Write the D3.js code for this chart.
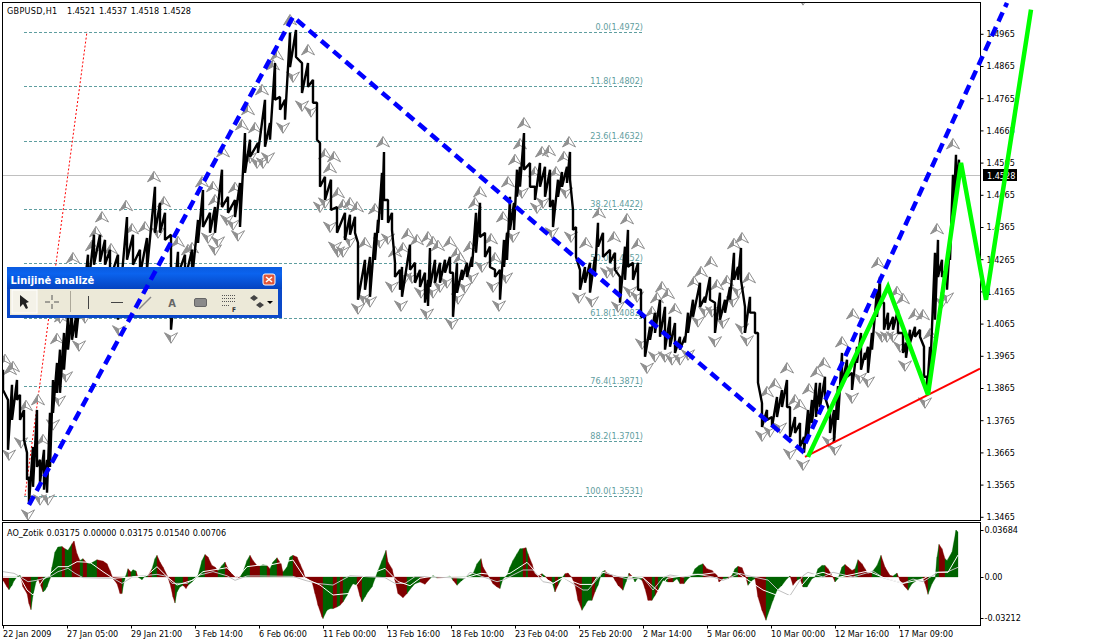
<!DOCTYPE html>
<html><head><meta charset="utf-8">
<script src="https://cdn.jsdelivr.net/npm/d3@7"></script>
<style>
html,body{margin:0;padding:0;background:#fff;overflow:hidden}
svg{display:block}
text{font-family:"DejaVu Sans Condensed","Liberation Sans",sans-serif;font-size:9px;fill:#000}
</style></head><body><svg id="c" width="1096" height="643"></svg>
<script>
const chartSymbol="GBPUSD,H1";
const chartQuote="1.4521 1.4537 1.4518 1.4528";
const aoTitle="AO_Zotik 0.03175 0.00000 0.03175 0.01540 0.00706";
const priceTicks=[1.4965,1.4865,1.4765,1.4665,1.4565,1.4465,1.4365,1.4265,1.4165,1.4065,1.3965,1.3865,1.3765,1.3665,1.3565,1.3465];
const aoTicks=[0.03684,0,-0.03212];
const aoTickLabels=["0.03684","0.00","-0.03212"];
const timeTicks=[0,64,128,192,256,320,384,448,512,576,640,704,768,832,896];
const timeLabels=["22 Jan 2009","27 Jan 05:00","29 Jan 21:00","3 Feb 14:00","6 Feb 06:00","11 Feb 00:00","13 Feb 16:00","18 Feb 10:00","23 Feb 04:00","25 Feb 20:00","2 Mar 14:00","5 Mar 06:00","10 Mar 00:00","12 Mar 16:00","17 Mar 09:00"];
const fibPct=["0.0","11.8","23.6","38.2","50.0","61.8","76.4","88.2","100.0"];
const fibPrice=[1.4972,1.4802,1.4632,1.4422,1.4252,1.4082,1.3871,1.3701,1.3531];
const lastPrice=1.4528;
const barIdx=[0,5,9,14,17,21,24,26,30,34,37,41,44,47,50,54,57,61,65,69,73,79,85,91,97,102,107,115,124,130,137,144,152,157,162,168,175,182,189,195,200,207,212,219,225,232,237,242,247,255,262,267,272,277,282,287,293,299,305,310,314,317,322,328,334,342,347,352,355,362,367,372,375,379,381,385,389,392,397,399,407,412,417,422,425,427,432,437,442,447,450,454,459,464,469,473,477,482,487,492,497,501,504,507,511,514,517,521,527,532,537,542,547,550,555,559,564,567,570,573,577,582,587,592,595,600,607,612,617,622,625,630,635,638,642,647,652,657,662,667,672,677,682,685,690,697,702,707,712,717,722,727,731,735,738,742,747,752,755,759,764,769,774,779,784,787,792,797,801,805,809,813,817,822,827,831,835,839,844,849,854,858,862,865,869,874,877,881,885,890,895,900,903,907,912,917,921,924,927,932,935,939,944,947,950,953,956];
const barHigh=[1.3922,1.3828,1.3875,1.3890,1.3844,1.3797,1.3664,1.3589,1.3682,1.3797,1.3642,1.3673,1.3642,1.3788,1.3890,1.3943,1.3984,1.4036,1.4086,1.4108,1.4086,1.4201,1.4279,1.4341,1.4341,1.4325,1.4294,1.4279,1.4396,1.4341,1.4294,1.4331,1.4490,1.4440,1.4409,1.4341,1.4288,1.4279,1.4294,1.4387,1.4480,1.4409,1.4427,1.4543,1.4459,1.4449,1.4502,1.4657,1.4636,1.4626,1.4760,1.4688,1.4874,1.4769,1.4760,1.4968,1.4977,1.4874,1.4874,1.4822,1.4751,1.4626,1.4521,1.4512,1.4427,1.4409,1.4403,1.4397,1.4316,1.4263,1.4272,1.4347,1.4387,1.4533,1.4598,1.4449,1.4409,1.4254,1.4232,1.4241,1.4310,1.4254,1.4232,1.4223,1.4201,1.4300,1.4263,1.4254,1.4263,1.4272,1.4223,1.4254,1.4232,1.4254,1.4272,1.4409,1.4440,1.4347,1.4304,1.4232,1.4232,1.4325,1.4347,1.4459,1.4440,1.4543,1.4552,1.4657,1.4564,1.4490,1.4564,1.4552,1.4543,1.4449,1.4512,1.4536,1.4552,1.4598,1.4418,1.4365,1.4232,1.4241,1.4254,1.4272,1.4378,1.4347,1.4294,1.4285,1.4210,1.4304,1.4356,1.4254,1.4254,1.4170,1.4086,1.4055,1.4099,1.4139,1.4117,1.4086,1.4067,1.4024,1.4024,1.4099,1.4139,1.4192,1.4148,1.4210,1.4130,1.4161,1.4139,1.4179,1.4285,1.4241,1.4300,1.4117,1.4148,1.4099,1.4036,1.3818,1.3797,1.3775,1.3837,1.3859,1.3890,1.3806,1.3775,1.3756,1.3713,1.3797,1.3828,1.3881,1.3881,1.3900,1.3788,1.3797,1.3871,1.3974,1.3953,1.3912,1.3993,1.4036,1.3974,1.3993,1.4036,1.4170,1.4210,1.4130,1.4099,1.4086,1.4108,1.4036,1.4005,1.4046,1.4055,1.4046,1.3993,1.3900,1.3993,1.4285,1.4325,1.4263,1.4241,1.4325,1.4527,1.4589,1.4574];
const barLow=[1.3859,1.3673,1.3766,1.3828,1.3766,1.3704,1.3580,1.3509,1.3558,1.3620,1.3571,1.3549,1.3540,1.3620,1.3788,1.3850,1.3850,1.3922,1.3984,1.4015,1.4021,1.4108,1.4170,1.4248,1.4257,1.4248,1.4201,1.4077,1.4263,1.4248,1.4216,1.4232,1.4347,1.4347,1.4325,1.4046,1.4216,1.4201,1.4201,1.4316,1.4365,1.4347,1.4347,1.4427,1.4409,1.4396,1.4365,1.4533,1.4583,1.4595,1.4614,1.4636,1.4760,1.4729,1.4698,1.4862,1.4893,1.4781,1.4800,1.4751,1.4636,1.4490,1.4449,1.4418,1.4347,1.4325,1.4341,1.4347,1.4139,1.4170,1.4148,1.4263,1.4347,1.4387,1.4449,1.4378,1.4356,1.4210,1.4170,1.4148,1.4232,1.4192,1.4179,1.4130,1.4120,1.4179,1.4192,1.4192,1.4223,1.4223,1.4086,1.4161,1.4201,1.4210,1.4241,1.4285,1.4334,1.4272,1.4241,1.4210,1.4139,1.4241,1.4263,1.4356,1.4356,1.4459,1.4490,1.4543,1.4490,1.4449,1.4490,1.4459,1.4427,1.4365,1.4459,1.4490,1.4502,1.4512,1.4356,1.4272,1.4170,1.4192,1.4161,1.4223,1.4304,1.4272,1.4254,1.4232,1.4130,1.4201,1.4241,1.4201,1.4170,1.4086,1.3962,1.4015,1.4036,1.4024,1.3984,1.3993,1.3974,1.3984,1.4006,1.4036,1.4086,1.4117,1.4130,1.4139,1.4036,1.4077,1.4099,1.4139,1.4201,1.4201,1.4201,1.4036,1.4099,1.4036,1.3881,1.3744,1.3766,1.3744,1.3775,1.3806,1.3806,1.3713,1.3725,1.3682,1.3664,1.3713,1.3756,1.3775,1.3806,1.3837,1.3725,1.3695,1.3766,1.3871,1.3900,1.3859,1.3943,1.3922,1.3953,1.3912,1.3984,1.4086,1.4130,1.4046,1.4046,1.4046,1.4036,1.3974,1.3959,1.4005,1.4024,1.4024,1.3900,1.3850,1.3900,1.4077,1.4210,1.4210,1.4170,1.4263,1.4387,1.4480,1.4527];
const upBar=[2,7,10,23,35,40,54,58,70,89,93,99,108,123,129,142,151,161,175,185,189,199,210,212,220,232,239,245,252,259,270,274,287,305,322,327,331,335,340,347,354,362,372,380,392,400,405,414,425,430,435,447,454,457,467,472,477,488,492,500,505,512,517,521,532,539,546,553,561,566,583,596,611,624,635,649,654,659,665,672,691,698,708,714,724,731,739,746,764,772,784,792,797,806,814,821,839,850,875,894,900,912,920,927,934,950];
const upPrice=[1.3953,1.3922,1.3931,1.3810,1.3828,1.3704,1.4018,1.4086,1.4269,1.4307,1.4350,1.4396,1.4297,1.4431,1.4359,1.4365,1.4521,1.4443,1.4319,1.4294,1.4300,1.4505,1.4490,1.4449,1.4598,1.4487,1.4682,1.4729,1.4673,1.4791,1.4868,1.4899,1.5008,1.4915,1.4592,1.4549,1.4583,1.4471,1.4434,1.4440,1.4427,1.4316,1.4421,1.4629,1.4288,1.4300,1.4344,1.4325,1.4334,1.4319,1.4307,1.4319,1.4285,1.4269,1.4304,1.4440,1.4474,1.4328,1.4269,1.4396,1.4505,1.4574,1.4623,1.4688,1.4536,1.4598,1.4602,1.4536,1.4583,1.4629,1.4316,1.4409,1.4334,1.4390,1.4313,1.4102,1.4145,1.4179,1.4158,1.4111,1.4195,1.4226,1.4257,1.4185,1.4198,1.4313,1.4331,1.4207,1.3853,1.3878,1.3927,1.3828,1.3813,1.3862,1.3915,1.3943,1.4008,1.4095,1.4254,1.4164,1.4142,1.4095,1.4092,1.4033,1.4359,1.4623];
const downBar=[6,18,25,37,45,50,56,57,63,76,82,116,155,168,205,212,215,224,230,235,247,254,260,265,280,290,299,308,317,322,327,332,335,340,347,355,361,367,377,385,389,398,402,409,418,424,430,437,444,449,455,462,469,479,490,496,503,510,519,534,540,549,563,568,576,589,604,610,615,627,634,639,644,652,662,669,677,685,695,702,709,712,720,730,735,739,744,759,767,777,787,800,800,826,832,849,857,865,879,884,890,897,902,922,939,944];
const downPrice=[1.3657,1.3695,1.3471,1.3518,1.3518,1.3751,1.3825,1.4083,1.3900,1.3996,1.4083,1.4043,1.4347,1.4021,1.4331,1.4294,1.4319,1.4387,1.4372,1.4338,1.4580,1.4564,1.4564,1.4580,1.4673,1.4831,1.4741,1.4723,1.4427,1.4440,1.4365,1.4303,1.4288,1.4288,1.4319,1.4111,1.4142,1.4133,1.4316,1.4328,1.4179,1.4120,1.4207,1.4207,1.4161,1.4095,1.4161,1.4179,1.4192,1.4064,1.4142,1.4176,1.4207,1.4241,1.4179,1.4120,1.4207,1.4334,1.4471,1.4424,1.4440,1.4347,1.4471,1.4334,1.4145,1.4133,1.4223,1.4226,1.4117,1.4164,1.4148,1.4002,1.3927,1.3962,1.3962,1.3953,1.3953,1.3968,1.4071,1.4102,1.4102,1.4009,1.4067,1.4133,1.4164,1.4049,1.4012,1.3716,1.3729,1.3741,1.3660,1.3626,1.5071,1.3698,1.3673,1.3834,1.3896,1.3884,1.4024,1.4024,1.4024,1.3993,1.3934,1.3819,1.4130,1.4145];
const zigBar=[26,290,799,1004];
const zigPrice=[1.3502,1.5018,1.3670,1.5061];
const waveBar=[805,885,925,958,983,1028];
const wavePrice=[1.3651,1.4179,1.3844,1.4564,1.4139,1.5040];
const trendBar=[802,977];
const trendPrice=[1.3651,1.3925];
const fibBaseBar=[22,84];
const fibBasePrice=[1.3531,1.4972];
const aoBar=[0,4,6,9,11,14,17,18,20,24,26,28,30,33,35,37,40,42,44,47,49,52,55,59,62,65,69,71,74,77,80,84,87,90,94,97,100,104,107,110,114,117,119,121,123,125,128,130,133,135,139,142,145,149,152,154,157,160,164,167,170,172,174,177,180,183,185,189,192,195,199,202,205,209,212,215,219,222,225,229,234,237,240,244,247,250,254,257,260,264,267,270,274,278,280,284,287,290,294,297,300,302,305,309,312,315,319,320,324,327,330,334,337,340,344,347,350,354,357,359,362,365,369,372,375,379,383,385,389,392,395,400,404,409,412,417,422,427,430,434,442,447,450,454,459,465,470,474,478,480,484,487,490,494,497,500,504,507,510,514,517,520,523,525,529,532,535,539,542,545,549,552,555,559,562,565,569,572,575,579,582,585,589,592,595,599,602,605,609,612,615,620,623,626,629,632,635,639,642,645,649,652,655,660,665,670,674,677,681,685,689,692,696,700,704,709,714,716,720,725,729,732,735,739,742,745,749,752,755,759,763,767,770,774,779,784,787,790,794,797,800,804,809,812,815,819,822,825,829,832,835,839,842,845,849,852,855,859,862,865,869,874,878,882,887,890,894,897,902,905,909,914,920,922,925,929,932,934,936,939,942,944,949,953,955];
const aoValue=[-.0026,-.0078,-.0099,-.0065,-.0031,0,.0013,-.0013,-.0078,-.0130,-.0209,-.0256,-.0144,-.0039,-.0013,-.0052,-.0117,-.0104,-.0078,-.0013,.0078,.0196,.0235,.0240,.0222,.0209,.0261,.0282,.0183,.0130,.0144,.0110,.0104,.0117,.0136,.0130,.0125,.0104,.0052,-.0013,-.0052,-.0130,-.0130,-.0039,.0013,.0065,.0039,.0057,.0047,0,-.0021,.0008,.0013,.0065,.0144,.0170,.0117,.0078,.0013,-.0052,-.0157,-.0204,-.0117,-.0078,-.0065,-.0091,-.0065,-.0039,-.0013,.0013,.0130,.0177,.0157,.0091,.0078,.0052,.0091,.0117,.0065,.0026,-.0008,0,.0039,.0130,.0170,.0130,.0091,.0086,.0099,.0091,.0065,.0117,.0151,.0104,.0039,.0078,.0157,.0170,.0157,.0104,.0052,0,-.0013,-.0039,-.0130,-.0222,-.0313,-.0326,-.0261,-.0248,-.0248,-.0235,-.0222,-.0196,-.0144,-.0091,-.0052,-.0065,-.0151,-.0196,-.0157,-.0117,-.0078,-.0013,.0052,.0130,.0209,.0117,.0065,-.0026,-.0130,-.0162,-.0130,-.0078,-.0052,-.0039,-.0057,-.0013,.0013,-.0008,-.0003,.0008,-.0026,-.0065,-.0026,.0008,.0026,.0104,.0144,.0078,.0026,-.0013,-.0052,-.0078,-.0091,-.0013,.0013,.0078,.0130,.0183,.0222,.0224,.0230,.0183,.0104,.0026,.0008,.0026,.0008,-.0021,-.0039,-.0117,-.0065,-.0008,.0026,.0031,-.0005,-.0065,-.0183,-.0261,-.0222,-.0183,-.0183,-.0117,-.0065,.0039,.0052,.0026,.0013,-.0026,-.0065,-.0104,-.0039,.0031,.0008,-.0039,-.0008,-.0026,-.0091,-.0183,-.0183,-.0144,-.0104,-.0026,-.0039,-.0039,-.0013,-.0052,-.0052,-.0013,.0013,.0065,.0091,.0104,.0065,.0052,.0013,-.0039,-.0013,-.0013,.0013,.0065,.0084,.0073,.0013,-.0065,-.0026,-.0013,-.0157,-.0261,-.0339,-.0248,-.0183,-.0104,-.0065,-.0013,.0008,-.0065,-.0026,-.0013,-.0078,-.0078,-.0013,0,.0065,.0091,.0091,.0065,.0013,-.0039,-.0013,.0078,.0099,.0078,.0052,.0065,.0136,.0104,.0065,.0026,.0039,.0091,.0170,.0078,.0013,.0008,.0031,-.0026,-.0078,-.0104,-.0052,-.0026,-.0008,-.0052,-.0136,-.0052,-.0013,.0157,.0256,.0222,.0144,.0130,.0196,.0368,.0353];
const aoUp=[0,0,1,1,1,1,1,0,0,0,0,1,1,1,0,0,1,1,1,1,1,1,1,0,1,1,0,0,0,1,0,1,1,1,0,0,0,0,0,0,0,0,1,1,1,0,1,1,0,1,1,1,0,1,1,0,0,0,0,0,0,1,1,1,0,0,1,1,1,1,1,0,0,0,0,1,1,0,0,0,0,1,1,1,0,0,0,1,1,0,1,1,0,0,1,1,1,0,0,0,0,0,0,0,0,0,0,1,1,1,0,1,0,1,1,1,1,0,0,1,1,1,1,1,1,1,0,0,0,0,0,0,1,1,1,0,0,1,1,0,1,1,0,1,1,1,1,1,0,0,0,0,0,0,1,1,1,1,1,1,1,0,1,0,0,0,0,1,0,0,1,0,1,1,0,0,0,0,0,1,1,1,0,1,1,1,0,0,0,0,0,1,1,0,1,1,1,0,0,0,1,0,1,1,0,1,1,0,1,1,1,1,1,0,0,0,0,0,1,0,1,1,0,0,0,1,1,0,0,0,1,1,1,1,1,1,0,0,1,0,1,1,1,1,1,1,0,0,0,1,1,1,0,0,0,1,0,0,0,0,1,1,0,0,0,1,0,0,0,1,1,1,0,0,1,1,1,1,0,0,1,1,1,1,1];
const aoFastBar=[0,17,24,30,40,55,65,74,87,100,110,143,154,164,174,190,200,224,234,244,257,267,290,302,317,330,347,360,382,395,407,417,430,463,478,497,507,524,534,550,560,577,589,597,604,614,640,655,664,690,700,722,735,745,760,775,790,807,820,835,850,865,880,900,920,932,945,955];
const aoFast=[-.0003,-.0003,-.0102,-.0141,-.0024,.0081,.0081,.0120,.0115,.0042,-.0010,.0008,.0081,.0003,-.0063,-.0024,.0042,.0073,-.0010,.0081,.0094,.0094,.0133,-.0010,-.0063,-.0141,-.0128,.0003,.0068,-.0036,-.0068,-.0010,.0008,-.0005,.0029,.0013,.0029,.0115,.0029,-.0050,-.0005,-.0058,-.0058,.0029,.0042,.0016,-.0005,-.0110,-.0010,.0021,.0021,.0045,.0029,-.0024,-.0102,-.0146,-.0146,.0010,.0037,-.0003,.0021,.0047,-.0003,-.0050,-.0016,.0037,.0037,.0172];
const aoSlowBar=[0,11,17,25,35,47,55,65,72,80,110,119,130,137,154,164,169,184,197,210,224,232,244,257,290,302,314,330,347,370,382,392,402,412,422,462,467,494,500,520,530,540,550,560,580,585,600,607,625,640,650,660,667,680,695,710,720,737,745,765,775,787,800,805,820,830,850,857,870,880,900,910,920,935,945,955];
const aoSlow=[.0042,.0029,.0003,-.0037,-.0024,.0003,.0042,.0068,.0029,-.0005,-.0010,-.0050,.0003,.0008,.0021,.0005,-.0050,-.0050,.0016,.0042,.0010,-.0026,.0008,.0008,.0005,-.0026,-.0050,-.0063,.0010,.0000,-.0005,-.0050,-.0050,.0003,.0003,-.0010,.0037,-.0037,-.0024,.0055,.0055,-.0037,-.0050,-.0003,-.0102,-.0102,.0037,.0021,-.0016,-.0005,-.0102,-.0005,.0016,.0000,.0021,.0000,-.0026,.0029,.0010,-.0024,-.0102,-.0146,.0010,.0037,.0000,.0037,.0000,.0016,.0047,-.0005,-.0050,-.0016,-.0037,.0037,.0042,.0076];

const svg=d3.select("#c");
const x=d3.scaleLinear().domain([0,957]).range([3,960]);
const y=d3.scaleLinear().domain([1.4965,1.3465]).range([33.8,516.8]);
const yAo=d3.scaleLinear().domain([0.03684,-0.03212]).range([530,618]);
const colFib="#5f9ea0",colMark="#909090";
svg.append("defs").append("clipPath").attr("id","plot").append("rect").attr("x",3).attr("y",3).attr("width",977).attr("height",517);
const main=svg.append("g").attr("clip-path","url(#plot)");
fibPrice.forEach((p,i)=>{
  main.append("line").attr("x1",24).attr("x2",643).attr("y1",Math.round(y(p))+.5).attr("y2",Math.round(y(p))+.5)
    .attr("stroke",colFib).attr("stroke-dasharray","3,2");
  main.append("text").attr("x",643).attr("y",Math.round(y(p))-2).attr("text-anchor","end").style("fill",colFib)
    .text(fibPct[i]+"("+p.toFixed(4)+")");
});
main.append("line").attr("x1",3).attr("x2",980).attr("y1",Math.round(y(lastPrice))+.5).attr("y2",Math.round(y(lastPrice))+.5).attr("stroke","#c0c0c0");
const line=d3.line().x(d=>x(d[0])).y(d=>y(d[1]));
main.append("path").attr("d",line(d3.zip(fibBaseBar,fibBasePrice))).attr("fill","none").attr("stroke","#f00").attr("stroke-dasharray","2,2");
function marks(bars,prices,sign){
  const g=main.append("g").selectAll("g").data(d3.zip(bars,prices)).join("g")
    .attr("transform",d=>`translate(${x(d[0])},${y(d[1])})`);
  g.append("path").attr("d",`M0,${-5.5*sign}L6.5,${5*sign}L0,${1.5*sign}L-6.5,${5*sign}Z`)
    .attr("fill","#fff").attr("stroke",colMark).attr("stroke-width",1);
  g.append("path").attr("d",`M0,${-5.5*sign}L-6.5,${5*sign}L0,${1.5*sign}Z`).attr("fill",colMark);
}
marks(upBar,upPrice,1);marks(downBar,downPrice,-1);
// price series: each read bar group drawn high to low, joined to the next
let dPrice="";
barIdx.forEach((b,i)=>{dPrice+=(i?"L":"M")+x(b)+","+y(barHigh[i])+"L"+x(b)+","+y(barLow[i]);});
main.append("path").attr("d",dPrice).attr("fill","none").attr("stroke","#000").attr("stroke-width",2.4).attr("stroke-linejoin","bevel");
main.append("path").attr("d",line(d3.zip(trendBar,trendPrice))).attr("fill","none").attr("stroke","#f00").attr("stroke-width",2);
svg.append("rect").attr("x",2.5).attr("y",2.5).attr("width",978).attr("height",518).attr("fill","none").attr("stroke","#000");
svg.append("rect").attr("x",2.5).attr("y",522.5).attr("width",978).attr("height",103).attr("fill","none").attr("stroke","#000");
const ao=svg.append("g");
const area=d3.area().x(d=>x(d[0])).y0(yAo(0)).y1(d=>yAo(d[1]));
aoBar.slice(0,-1).forEach((b,i)=>{
  ao.append("path").attr("d",area([[b,aoValue[i]],[aoBar[i+1],aoValue[i+1]]]))
    .attr("fill",aoUp[i]?"#006400":"#800000").attr("stroke",aoUp[i]?"#006400":"#800000").attr("stroke-width",.3);
});
const lineAo=d3.line().x(d=>x(d[0])).y(d=>yAo(d[1]));
ao.append("path").attr("d",lineAo(d3.zip(aoSlowBar,aoSlow))).attr("fill","none").attr("stroke","#c0c0c0");
ao.append("path").attr("d",lineAo(d3.zip(aoFastBar,aoFast))).attr("fill","none").attr("stroke","#fff");
const gy=svg.append("g").attr("transform","translate(980.5,0)").call(d3.axisRight(y).tickValues(priceTicks).tickSize(3).tickPadding(3).tickFormat(d3.format(".4f")));
gy.select(".domain").remove();
const gao=svg.append("g").attr("transform","translate(980.5,0)").call(d3.axisRight(yAo).tickValues(aoTicks).tickSize(3).tickPadding(1).tickFormat((d,i)=>aoTickLabels[i]));
gao.select(".domain").remove();
const gx=svg.append("g").attr("transform","translate(0,625.5)").call(d3.axisBottom(x).tickValues(timeTicks).tickSize(3).tickPadding(3).tickFormat((d,i)=>timeLabels[i]));
gx.select(".domain").remove();
gx.selectAll("text").attr("text-anchor","start").attr("dx",-.5).attr("dy","0.6em");
svg.selectAll(".tick line").attr("stroke","#000");
svg.selectAll(".tick text").style("fill","#000");
svg.selectAll("g").attr("font-family",null).attr("font-size",null);
svg.append("text").attr("x",7).attr("y",14).style("letter-spacing","0.3px").text(chartSymbol);
svg.append("text").attr("x",67).attr("y",14).style("word-spacing","1px").text(chartQuote);
svg.append("text").attr("x",7).attr("y",536).style("word-spacing","0.5px").text(aoTitle);
svg.append("rect").attr("x",983).attr("y",169).attr("width",34).attr("height",12).attr("fill","#000");
svg.append("text").attr("x",987).attr("y",178.5).style("fill","#fff").text(lastPrice.toFixed(4));
const tb=svg.append("g");
const grad=svg.select("defs").append("linearGradient").attr("id","tbg").attr("x1",0).attr("y1",0).attr("x2",0).attr("y2",1);
grad.append("stop").attr("offset",0).attr("stop-color","#0a5be0");
grad.append("stop").attr("offset",.3).attr("stop-color","#0b63ee");
grad.append("stop").attr("offset",1).attr("stop-color","#0443c0");
tb.append("rect").attr("x",7).attr("y",267).attr("width",275).attr("height",51).attr("fill","#0a48c8");
tb.append("rect").attr("x",7).attr("y",267).attr("width",275).attr("height",22).attr("fill","url(#tbg)");
tb.append("rect").attr("x",10).attr("y",289).attr("width",268).attr("height",26).attr("fill","#ece9d8");
tb.append("text").attr("x",10.5).attr("y",284).style("fill","#fff").style("font-weight","bold").style("font-size","11px").text("Linijinė analizė");
tb.append("rect").attr("x",263).attr("y",274).attr("width",12).attr("height",11).attr("rx",2).attr("fill","#e0583a").attr("stroke","#fff");
tb.append("path").attr("d","M266,277L272,282M272,277L266,282").attr("stroke","#fff").attr("stroke-width",1.6);
tb.append("rect").attr("x",12).attr("y",290).attr("width",25).attr("height",23).attr("fill","#f4f2e8").attr("stroke","#fff");
tb.append("path").attr("d","M20,295L20,307L23,304L26,309L28,308L26,303L29,302Z").attr("fill","#222");
tb.append("path").attr("d","M45,302H50M54,302H59M52,295V300M52,304V309").attr("stroke","#555").attr("fill","none");
tb.append("path").attr("d","M70.5,291V312").attr("stroke","#aca899");
tb.append("path").attr("d","M88.5,296V309M111,302.5H123").attr("stroke","#444");
tb.append("path").attr("d","M139,309L151,297").attr("stroke","#888").attr("stroke-width",1.5);
tb.append("text").attr("x",172).attr("y",307).attr("text-anchor","middle").style("fill","#666").style("font-weight","bold").style("font-size","11px").text("A");
tb.append("rect").attr("x",194.5).attr("y",298.5).attr("width",12).attr("height",8).attr("rx",1.5).attr("fill","#8a8a8a").attr("stroke","#666");
tb.append("path").attr("d","M222,295.5H235M222,298.5H235M222,301.5H235M222,305.5H230").attr("stroke","#555").attr("stroke-dasharray","1,1");
tb.append("text").attr("x",232).attr("y",312).style("fill","#333").style("font-weight","bold").style("font-size","6.5px").text("F");
tb.append("path").attr("d","M250,298L254,295L258,298L254,301ZM256,305L260,302L264,305L260,308Z").attr("fill","#444");
tb.append("path").attr("d","M267,301H273L270,304Z").attr("fill","#000");
svg.append("path").attr("d",line(d3.zip(zigBar,zigPrice))).attr("fill","none").attr("stroke","#0000ff").attr("stroke-width",4.5).attr("stroke-dasharray","10,6");
svg.append("path").attr("d",line(d3.zip(waveBar,wavePrice))).attr("fill","none").attr("stroke","#00ff00").attr("stroke-width",4.5);
</script></body></html>
